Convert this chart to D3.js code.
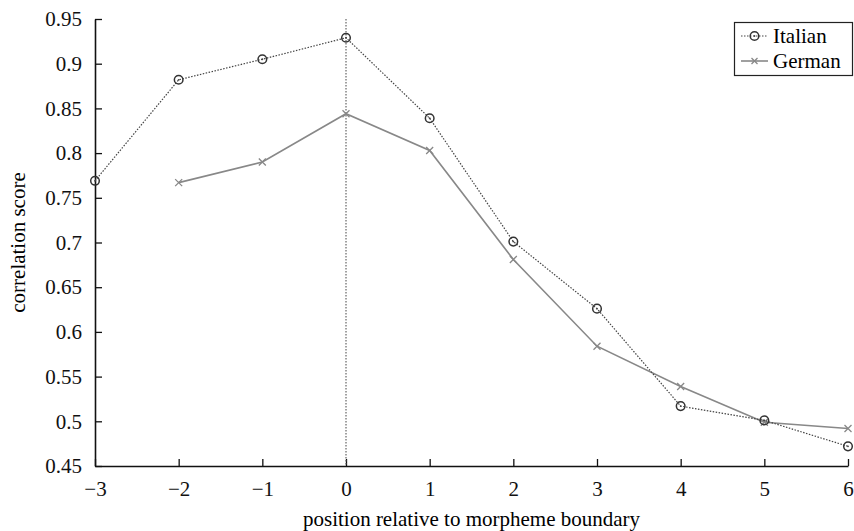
<!DOCTYPE html>
<html>
<head>
<meta charset="utf-8">
<script src="https://cdn.jsdelivr.net/npm/d3@7"></script>
<style>
  body { margin: 0; background: #fff; }
</style>
</head>
<body>
<div id="chart"></div>
<script>
// data
const positions = [-3, -2, -1, 0, 1, 2, 3, 4, 5, 6];
const italian = [0.769, 0.882, 0.905, 0.929, 0.839, 0.701, 0.626, 0.517, 0.501, 0.472];
const german = [null, 0.767, 0.790, 0.844, 0.803, 0.681, 0.584, 0.539, 0.499, 0.492];
const yTicks = [0.45, 0.5, 0.55, 0.6, 0.65, 0.7, 0.75, 0.8, 0.85, 0.9, 0.95];
const xTicks = [-3, -2, -1, 0, 1, 2, 3, 4, 5, 6];

const width = 854, height = 531;
const margin = { top: 19, right: 6, bottom: 65, left: 95 };
const serif = "'Liberation Serif', 'Times New Roman', 'DejaVu Serif', serif";
const fs = 21;

const svg = d3.select("#chart").append("svg")
  .attr("width", width).attr("height", height);

const x = d3.scaleLinear().domain([-3, 6]).range([margin.left, width - margin.right]);
const y = d3.scaleLinear().domain([0.45, 0.95]).range([height - margin.bottom, margin.top]);

const fmtY = (d) => d3.format(".2~f")(d);
const fmtX = (d) => (d < 0 ? "\u2212" + Math.abs(d) : String(d));

// axes, ticks pointing inward
const yAxis = svg.append("g")
  .attr("transform", `translate(${margin.left},0)`)
  .call(d3.axisLeft(y).tickValues(yTicks).tickSizeInner(-7).tickSizeOuter(0).tickPadding(13).tickFormat(fmtY));
const xAxis = svg.append("g")
  .attr("transform", `translate(0,${height - margin.bottom})`)
  .call(d3.axisBottom(x).tickValues(xTicks).tickSizeInner(-7).tickSizeOuter(0).tickPadding(15).tickFormat(fmtX));

[yAxis, xAxis].forEach((g) => {
  g.attr("font-family", null).attr("font-size", null);
  g.select(".domain").attr("stroke", "#111").attr("stroke-width", 1.6);
  g.selectAll(".tick line").attr("stroke", "#111").attr("stroke-width", 1.3);
  g.selectAll(".tick text")
    .style("font-family", serif)
    .style("font-size", fs + "px")
    .attr("fill", "#111");
});

// vertical line at boundary
svg.append("line")
  .attr("x1", x(0)).attr("x2", x(0))
  .attr("y1", y(0.95)).attr("y2", y(0.45))
  .attr("stroke", "#555").attr("stroke-width", 1.1)
  .attr("stroke-dasharray", "1.5,1.5");

const line = d3.line()
  .defined((d) => d[1] != null)
  .x((d) => x(d[0]))
  .y((d) => y(d[1]));

const itData = positions.map((p, i) => [p, italian[i]]);
const deData = positions.map((p, i) => [p, german[i]]).filter((d) => d[1] != null);

// German series
svg.append("path")
  .datum(deData)
  .attr("d", line)
  .attr("fill", "none")
  .attr("stroke", "#888")
  .attr("stroke-width", 1.6);

function cross(g, cx, cy, r, color) {
  g.append("path")
    .attr("d", `M${cx - r},${cy - r}L${cx + r},${cy + r}M${cx - r},${cy + r}L${cx + r},${cy - r}`)
    .attr("stroke", color).attr("stroke-width", 1.3).attr("fill", "none");
}

const deMarks = svg.append("g");
deData.forEach((d) => cross(deMarks, x(d[0]), y(d[1]), 3.5, "#888"));

// Italian series
svg.append("path")
  .datum(itData)
  .attr("d", line)
  .attr("fill", "none")
  .attr("stroke", "#444")
  .attr("stroke-width", 1.2)
  .attr("stroke-dasharray", "1.5,1.5");

function circle(g, cx, cy) {
  g.append("circle").attr("cx", cx).attr("cy", cy).attr("r", 4.3)
    .attr("fill", "none").attr("stroke", "#333").attr("stroke-width", 1.5);
  g.append("circle").attr("cx", cx).attr("cy", cy).attr("r", 0.9).attr("fill", "#444");
}

const itMarks = svg.append("g");
itData.forEach((d) => circle(itMarks, x(d[0]), y(d[1])));

// axis titles
svg.append("text")
  .attr("x", (margin.left + width - margin.right) / 2)
  .attr("y", 526)
  .attr("text-anchor", "middle")
  .style("font-family", serif).style("font-size", fs + "px")
  .text("position relative to morpheme boundary");

svg.append("text")
  .attr("transform", `translate(25,${(margin.top + height - margin.bottom) / 2}) rotate(-90)`)
  .attr("text-anchor", "middle")
  .style("font-family", serif).style("font-size", fs + "px")
  .text("correlation score");

// legend
const legend = svg.append("g");
legend.append("rect")
  .attr("x", 734.5).attr("y", 22.5)
  .attr("width", 118).attr("height", 53)
  .attr("fill", "#fff").attr("stroke", "#222").attr("stroke-width", 1.2);

legend.append("line")
  .attr("x1", 741).attr("x2", 768).attr("y1", 36).attr("y2", 36)
  .attr("stroke", "#444").attr("stroke-width", 1.2).attr("stroke-dasharray", "1.5,1.5");
circle(legend, 754.5, 36);
legend.append("text").attr("x", 773).attr("y", 43)
  .style("font-family", serif).style("font-size", fs + "px").text("Italian");

legend.append("line")
  .attr("x1", 741).attr("x2", 768).attr("y1", 61).attr("y2", 61)
  .attr("stroke", "#888").attr("stroke-width", 1.6);
cross(legend, 754.5, 61, 3, "#888");
legend.append("text").attr("x", 773).attr("y", 68)
  .style("font-family", serif).style("font-size", fs + "px").text("German");
</script>
</body>
</html>
